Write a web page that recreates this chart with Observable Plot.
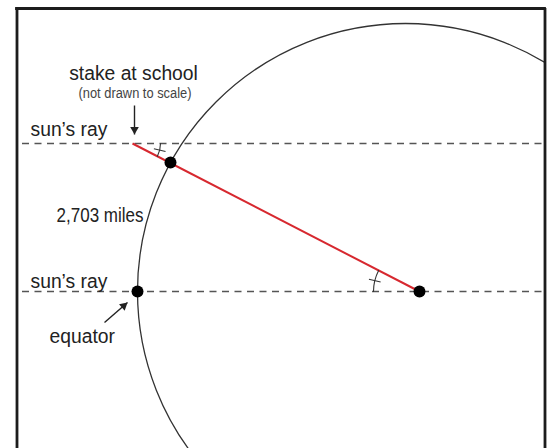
<!DOCTYPE html>
<html><head><meta charset="utf-8">
<script src="https://cdn.jsdelivr.net/npm/d3@7"></script>
<script src="https://cdn.jsdelivr.net/npm/@observablehq/plot@0.6"></script>
<style>body{margin:0;background:#fff}svg{display:block}</style>
</head><body><div id="chart"></div>
<script>
// Diagram geometry (diagram units)
const frameLeft = 16.5, frameRight = 544.5, frameTop = 8, frameBottom = 448;
const earthCenter = [{x: 405, y: 291}];
const earthRadius = 268;
const rayLines = [{y: 143, x1: 22, x2: 544}, {y: 291, x1: 22, x2: 544}];
const stakeTop = {x: 132, y: 143};
const centerPoint = {x: 419, y: 291};
const points = [
  {name: "stake", x: 170, y: 162},
  {name: "equator", x: 137, y: 291},
  {name: "center", x: 419, y: 291}
];
const pointers = [
  {x1: 134, y1: 105, x2: 134, y2: 134},
  {x1: 104, y1: 322, x2: 127, y2: 302}
];
const bigLabels = [
  {x: 30, y: 128.3, text: "sun’s ray"},
  {x: 30, y: 280.3, text: "sun’s ray"},
  {x: 49, y: 335.8, text: "equator"}
];
const titleLabels = [{x: 133, y: 72.6, text: "stake at school"}];
const smallLabels = [{x: 134.5, y: 93.5, text: "(not drawn to scale)"}];
const distLabels = [{x: 143, y: 215.3, text: "2,703 miles"}];
const angleMarks = [
  {vx: 132, vy: 143, r: 28, from: 0},
  {vx: 419, vy: 291, r: 46, from: 180}
];

// angle between the sun's ray and the red line
const theta = Math.atan2(centerPoint.y - stakeTop.y, centerPoint.x - stakeTop.x) * 180 / Math.PI;
const rad = d => d * Math.PI / 180;
const arcs = angleMarks.map(m => {
  const a0 = rad(m.from), a1 = rad(m.from + theta);
  return {x1: m.vx + m.r * Math.cos(a0), y1: m.vy + m.r * Math.sin(a0),
          x2: m.vx + m.r * Math.cos(a1), y2: m.vy + m.r * Math.sin(a1)};
});
const ticks = angleMarks.map(m => {
  const a = rad(m.from + theta / 2);
  return {x1: m.vx + (m.r - 6) * Math.cos(a), y1: m.vy + (m.r - 6) * Math.sin(a),
          x2: m.vx + (m.r + 6) * Math.cos(a), y2: m.vy + (m.r + 6) * Math.sin(a)};
});
// filled arrow heads (triangle symbol, centroid set back from the tip)
const headR = 3.2, headTip = headR * Math.sqrt(4 * Math.PI / (3 * Math.sqrt(3)));
const heads = pointers.map(p => {
  const dx = p.x2 - p.x1, dy = p.y2 - p.y1, L = Math.hypot(dx, dy);
  return {x: p.x2 - dx / L * headTip, y: p.y2 - dy / L * headTip,
          rotate: Math.atan2(dx, -dy) * 180 / Math.PI};
});

const font = "'Liberation Sans', Arial, Helvetica, sans-serif";
const textGroups = [
  {data: titleLabels, fontSize: 21, anchor: "middle", fill: "#222", squeeze: 0.92},
  {data: bigLabels, fontSize: 21, anchor: "start", fill: "#222", squeeze: 0.92},
  {data: smallLabels, fontSize: 14, anchor: "middle", fill: "#444", squeeze: 0.92},
  {data: distLabels, fontSize: 20, anchor: "end", fill: "#222", squeeze: 0.85}
];

const chart = Plot.plot({
  width: 548, height: 448,
  marginLeft: frameLeft, marginRight: 548 - frameRight, marginTop: frameTop, marginBottom: 448 - frameBottom,
  x: {domain: [frameLeft, frameRight], range: [frameLeft, frameRight], axis: null},
  y: {domain: [frameTop, frameBottom], range: [frameTop, frameBottom], axis: null},
  style: {fontFamily: font, background: "#fff"},
  marks: [
    Plot.dot(earthCenter, {x: "x", y: "y", r: earthRadius, fill: "none", stroke: "#333", strokeWidth: 1.3, clip: "frame"}),
    Plot.ruleY(rayLines, {y: "y", x1: "x1", x2: "x2", stroke: "#555", strokeWidth: 1.4, strokeDasharray: "7,5.5"}),
    Plot.link([{x1: stakeTop.x, y1: stakeTop.y, x2: centerPoint.x, y2: centerPoint.y}], {x1: "x1", y1: "y1", x2: "x2", y2: "y2", stroke: "#d7282f", strokeWidth: 2}),
    Plot.arrow(arcs, {x1: "x1", y1: "y1", x2: "x2", y2: "y2", bend: theta / 2, headLength: 0, stroke: "#333", strokeWidth: 1.1}),
    Plot.link(ticks, {x1: "x1", y1: "y1", x2: "x2", y2: "y2", stroke: "#333", strokeWidth: 1.1}),
    Plot.dot(points, {x: "x", y: "y", r: 6, fill: "#000"}),
    Plot.link(pointers, {x1: "x1", y1: "y1", x2: "x2", y2: "y2", stroke: "#222", strokeWidth: 1.4}),
    Plot.dot(heads, {x: "x", y: "y", rotate: "rotate", symbol: "triangle", r: headR, fill: "#222", stroke: "none"}),
    ...textGroups.map(g => Plot.text(g.data, {x: "x", y: "y", text: "text", textAnchor: g.anchor, fontSize: g.fontSize, fill: g.fill})),
    Plot.ruleX([frameLeft, frameRight], {y1: frameTop, y2: frameBottom + 2, stroke: "#1c1c1c", strokeWidth: 2.8}),
    Plot.ruleY([frameTop], {x1: frameLeft - 1.4, x2: frameRight + 1.4, stroke: "#1c1c1c", strokeWidth: 2.8})
  ]
});
// horizontally condense the lettering, like the narrow typeface of the original
d3.select(chart).selectAll('g[aria-label="text"]').each(function(_, i) {
  const k = textGroups[i] ? textGroups[i].squeeze : 1;
  d3.select(this).selectAll("text").each(function() {
    const t = this.getAttribute("transform");
    if (t) this.setAttribute("transform", t + ` scale(${k},1)`);
    else {
      const x = +this.getAttribute("x") || 0, y = +this.getAttribute("y") || 0;
      this.removeAttribute("x"); this.removeAttribute("y");
      this.setAttribute("transform", `translate(${x},${y}) scale(${k},1)`);
    }
  });
});
document.getElementById("chart").appendChild(chart);
</script>
</body></html>
